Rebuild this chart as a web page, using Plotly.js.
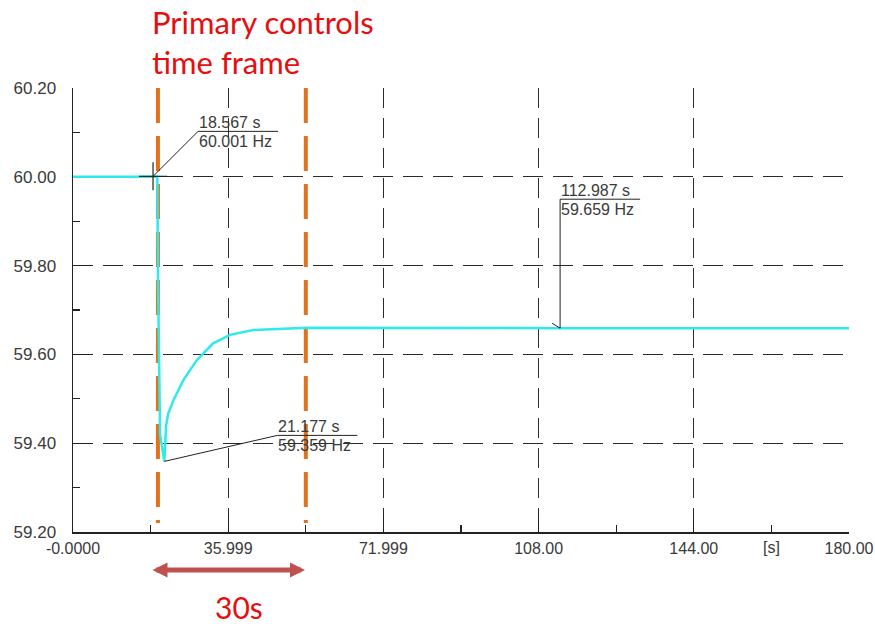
<!DOCTYPE html>
<html>
<head>
<meta charset="utf-8">
<script src="https://cdn.plot.ly/plotly-3.0.1.min.js"></script>
<style>html,body{margin:0;padding:0;background:#fff;}#chart{width:875px;height:624px;}</style>
</head>
<body>
<div id="chart"></div>
<script>
// Frequency response (time in s, frequency in Hz)
const timeS = [0, 18.567, 19.55, 19.75, 20.2, 21.177, 21.6, 22.1, 23.3, 25.6, 28.7, 32.5, 36.4, 41.8, 49.6, 54.2, 112.987, 180];
const freqHz = [60.0, 60.001, 60.0, 59.75, 59.42, 59.359, 59.44, 59.467, 59.497, 59.542, 59.587, 59.625, 59.644, 59.655, 59.659, 59.660, 59.659, 59.659];

// Primary controls time frame boundaries (s)
const frameLines = [19.7, 54.0];

// Cursor readouts
const cursorT = [18.567, 21.177, 112.987];
const cursorF = [60.001, 59.359, 59.659];
const cursorLabelT = ["18.567 s", "21.177 s", "112.987 s"];
const cursorLabelF = ["60.001 Hz", "59.359 Hz", "59.659 Hz"];

// Axis ticks
const xTickVals = [0, 36, 72, 108, 144, 180];
const xTickText = ["-0.0000", "35.999", "71.999", "108.00", "144.00", "180.00"];
const yTickVals = [59.2, 59.4, 59.6, 59.8, 60.0, 60.2];
const yTickText = ["59.20", "59.40", "59.60", "59.80", "60.00", "60.20"];

const txtColor = '#3a3a3a';
const red = '#E60E0E';
const sans = 'Liberation Sans, Arial, sans-serif';

const traces = [];
frameLines.forEach(function (t) {
  traces.push({
    x: [t, t], y: [60.2, 59.22], mode: 'lines', hoverinfo: 'skip',
    line: {color: '#E2711D', width: 4, dash: '35px,13px'}
  });
});
traces.push({
  x: timeS, y: freqHz, mode: 'lines',
  line: {color: '#2EEBEB', width: 2.5}
});
traces.push({
  x: [cursorT[0]], y: [cursorF[0]], mode: 'markers',
  marker: {symbol: 'cross-thin-open', size: 20, color: '#222', line: {color: '#222', width: 1.2}}
});

// leader offsets in pixels (dx, dy up) per cursor
const leadDx = [45, 113, 0];
const leadDy = [45, 26, 129];
const ulLen = 80;

const shapes = [];
const annotations = [];
for (let i = 0; i < cursorT.length; i++) {
  const base = {type: 'line', xref: 'x', yref: 'y', xsizemode: 'pixel', ysizemode: 'pixel',
    xanchor: cursorT[i], yanchor: cursorF[i], line: {color: '#222', width: 1}};
  shapes.push(Object.assign({}, base, {x0: 0, y0: 0, x1: leadDx[i], y1: leadDy[i]}));
  shapes.push(Object.assign({}, base, {x0: leadDx[i], y0: leadDy[i], x1: leadDx[i] + ulLen, y1: leadDy[i]}));
  if (i === 2) {
    shapes.push(Object.assign({}, base, {x0: -8, y0: 5, x1: 0, y1: 0}));
  }
  annotations.push({
    x: cursorT[i], y: cursorF[i], xref: 'x', yref: 'y', showarrow: false, borderpad: 0,
    text: cursorLabelT[i], xanchor: 'left', yanchor: 'bottom',
    xshift: leadDx[i], yshift: leadDy[i] - 1,
    font: {family: sans, size: 16, color: txtColor}
  });
  annotations.push({
    x: cursorT[i], y: cursorF[i], xref: 'x', yref: 'y', showarrow: false, borderpad: 0,
    text: cursorLabelF[i], xanchor: 'left', yanchor: 'top',
    xshift: leadDx[i], yshift: leadDy[i] - 1,
    font: {family: sans, size: 16, color: txtColor}
  });
}

// [s] unit label at minor tick
annotations.push({
  x: 162, y: 0, xref: 'x', yref: 'paper', yanchor: 'top', showarrow: false, yshift: -6, borderpad: 0,
  text: '[s]', font: {family: sans, size: 16, color: txtColor}
});

// Red annotation texts
annotations.push({
  x: 150, y: 0, xref: 'paper', yref: 'paper', showarrow: false,
  text: 'Primary controls<br>time frame', align: 'left', xanchor: 'left', yanchor: 'middle',
  font: {family: 'Lato, Open Sans', size: 31, color: red}
});
// double arrow
annotations.push({
  x: 305, y: 0, xref: 'paper', yref: 'paper', ax: -154, ay: 0, axref: 'pixel', ayref: 'pixel',
  showarrow: true, arrowside: 'end+start', arrowhead: 2, arrowsize: 0.6, arrowwidth: 5,
  arrowcolor: '#C0504D', text: ''
});
annotations.push({
  x: 239, y: 0, xref: 'paper', yref: 'paper', showarrow: false,
  text: '30s', xanchor: 'center', yanchor: 'middle',
  font: {family: 'Lato, Open Sans', size: 30, color: red}
});

const W = 875, H = 624, L = 73, R = 26, T = 88, B = 92;
const pw = W - L - R, ph = H - T - B;
// convert pixel positions of free annotations into paper coordinates
annotations.forEach(function (a) {
  if (a.xref === 'paper' && a.x > 1.5) {
    a.x = (a.x - L) / pw;
  }
});
annotations[annotations.length - 3].y = 1 + (T - 42) / ph;
annotations[annotations.length - 2].y = -(570 - (T + ph)) / ph;
annotations[annotations.length - 1].y = -(607 - (T + ph)) / ph;

const axisCommon = {
  showline: true, linecolor: '#222', linewidth: 1.5, mirror: false,
  showgrid: true, gridcolor: '#2b2b2b', gridwidth: 1.3, griddash: '20px,10px',
  ticks: 'inside', ticklen: 18, tickcolor: '#222', tickwidth: 1.3,
  zeroline: false, tickfont: {family: sans, size: 16, color: txtColor},
  fixedrange: true, layer: 'below traces'
};

const layout = {
  width: W, height: H,
  margin: {l: L, r: R, t: T, b: B},
  paper_bgcolor: '#fff', plot_bgcolor: '#fff',
  showlegend: false,
  xaxis: Object.assign({}, axisCommon, {
    range: [0, 180], tickmode: 'array', tickvals: xTickVals, ticktext: xTickText,
    ticklabelstandoff: 1,
    minor: {tick0: 0, dtick: 18, ticks: 'inside', ticklen: 7, tickcolor: '#222', tickwidth: 1.3, showgrid: false}
  }),
  yaxis: Object.assign({}, axisCommon, {
    range: [59.2, 60.2], tickmode: 'array', tickvals: yTickVals, ticktext: yTickText,
    ticklabelstandoff: 12, tickfont: {family: sans, size: 17, color: txtColor},
    minor: {tick0: 59.2, dtick: 0.1, ticks: 'inside', ticklen: 7, tickcolor: '#222', tickwidth: 1.3, showgrid: false}
  }),
  shapes: shapes,
  annotations: annotations
};

Plotly.newPlot('chart', traces, layout, {displayModeBar: false, staticPlot: true});
</script>
</body>
</html>
